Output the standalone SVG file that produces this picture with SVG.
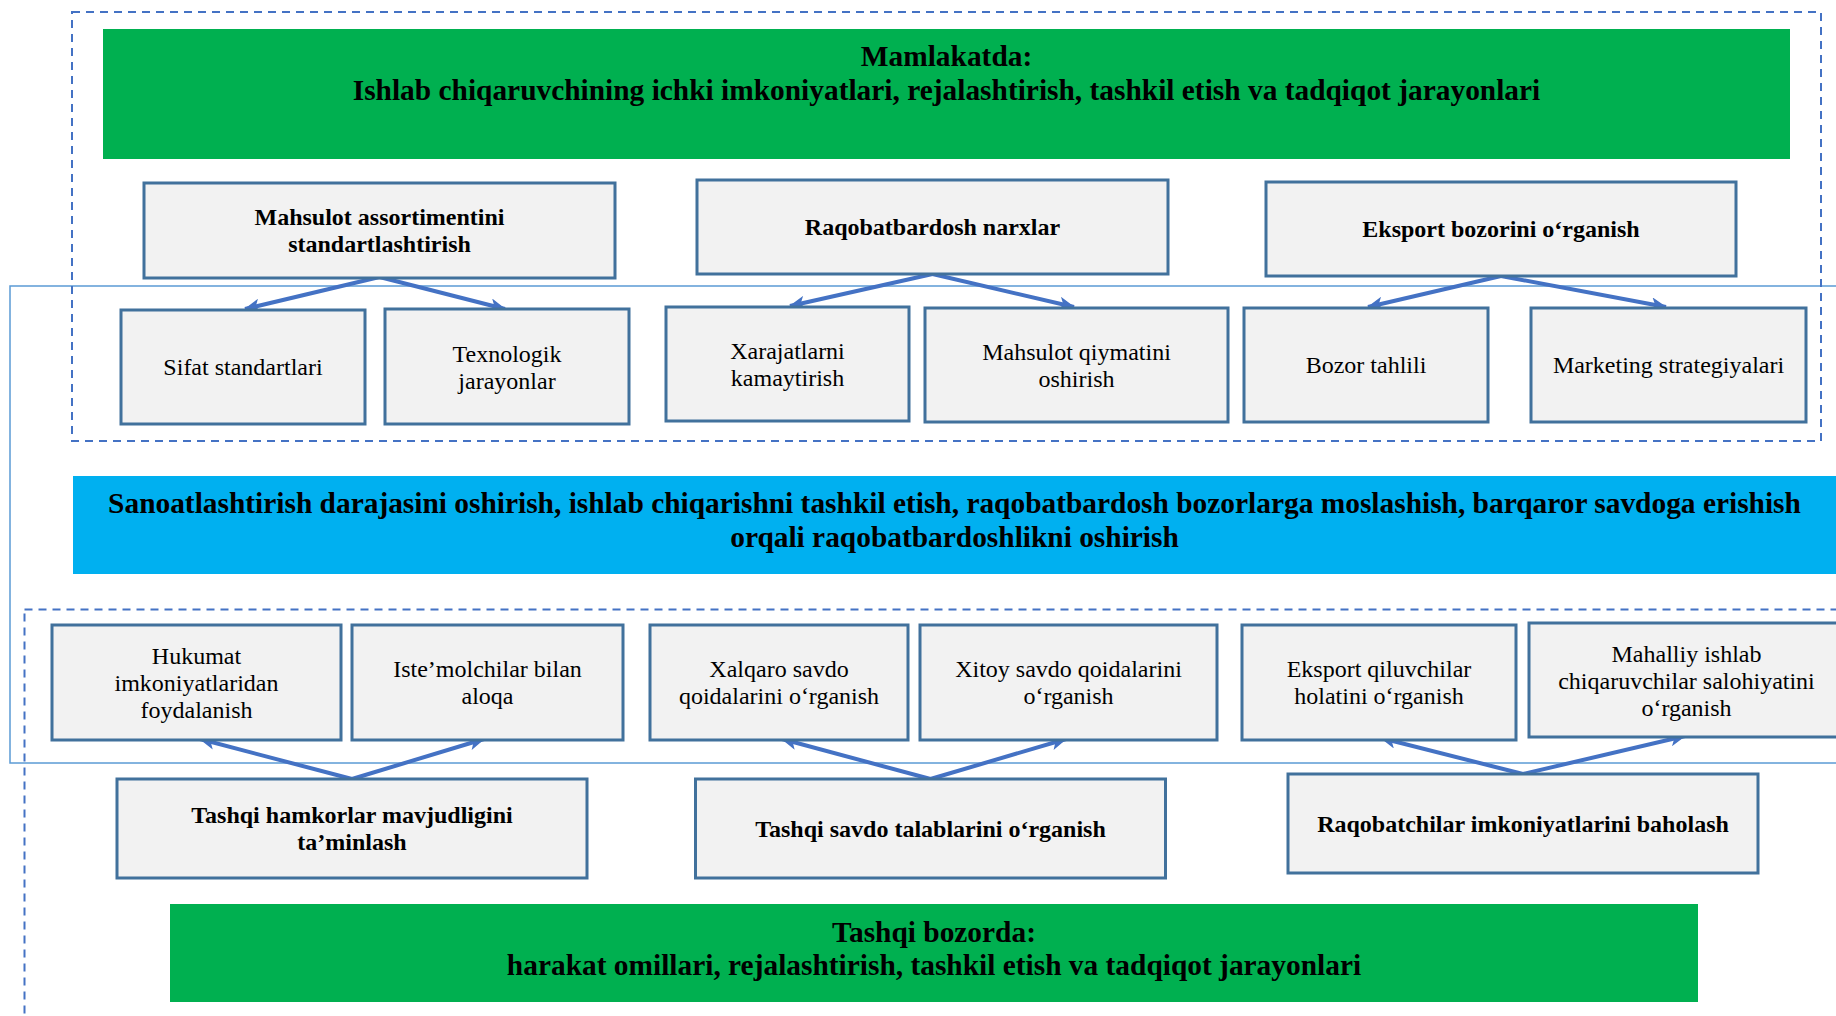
<svg xmlns="http://www.w3.org/2000/svg" width="1836" height="1016" viewBox="0 0 1836 1016">
<defs>
<style>
.bg{fill:#ffffff}
.frame{fill:none;stroke:#5B9BD5;stroke-width:1.5}
.dash{fill:none;stroke:#4472C4;stroke-width:2;stroke-dasharray:8 6}
.green{fill:#00B050}
.blue{fill:#00B0F0}
.node rect{fill:#F2F2F2;stroke:#41719C;stroke-width:3}
text{font-family:"Liberation Serif","Times New Roman",serif;fill:#000;text-anchor:middle}
.h{font-size:29.4px;font-weight:bold}
.b{font-size:24px;font-weight:bold}
.r{font-size:24px}
.conn line{stroke:#4472C4;stroke-width:4;marker-end:url(#ah)}
</style>
<marker id="ah" viewBox="0 0 16 14" markerWidth="16" markerHeight="14" refX="15" refY="7" orient="auto" markerUnits="userSpaceOnUse">
<path d="M0,0 L16,7 L0,14 L4,7 Z" fill="#4472C4"/>
</marker>
</defs>
<rect class="bg" x="0" y="0" width="1836" height="1016"/>

<g id="frames">
<rect class="frame" x="10" y="286" width="1900" height="477"/>
<rect class="dash" x="72" y="12" width="1749" height="429"/>
<rect class="dash" x="24.5" y="609.5" width="1900" height="500"/>
</g>

<g id="header-top">
<rect class="green" x="103" y="29" width="1687" height="130"/>
<text class="h" x="946.5" y="66">Mamlakatda:</text>
<text class="h" x="946.5" y="100">Ishlab chiqaruvchining ichki imkoniyatlari, rejalashtirish, tashkil etish va tadqiqot jarayonlari</text>
</g>

<g id="header-middle">
<rect class="blue" x="73" y="476" width="1800" height="98"/>
<text class="h" x="954.5" y="513">Sanoatlashtirish darajasini oshirish, ishlab chiqarishni tashkil etish, raqobatbardosh bozorlarga moslashish, barqaror savdoga erishish</text>
<text class="h" x="954.5" y="547">orqali raqobatbardoshlikni oshirish</text>
</g>

<g id="header-bottom">
<rect class="green" x="170" y="904" width="1528" height="98"/>
<text class="h" x="934" y="942">Tashqi bozorda:</text>
<text class="h" x="934" y="975">harakat omillari, rejalashtirish, tashkil etish va tadqiqot jarayonlari</text>
</g>

<g id="connectors" class="conn">
<line x1="379.5" y1="277" x2="245" y2="309"/>
<line x1="379.5" y1="277" x2="505" y2="309"/>
<line x1="932.5" y1="274" x2="790" y2="306"/>
<line x1="932.5" y1="274" x2="1074" y2="307"/>
<line x1="1501" y1="276" x2="1368" y2="307"/>
<line x1="1501" y1="276" x2="1666" y2="307"/>
<line x1="352" y1="779" x2="200" y2="739"/>
<line x1="352" y1="779" x2="484" y2="739"/>
<line x1="930.5" y1="779" x2="782" y2="739"/>
<line x1="930.5" y1="779" x2="1066" y2="739"/>
<line x1="1523" y1="774" x2="1381" y2="738"/>
<line x1="1523" y1="774" x2="1685" y2="736"/>
</g>

<g id="n-mahsulot-assort" class="node">
<rect x="144" y="183" width="471" height="95"/>
<text class="b" x="379.5" y="225">Mahsulot assortimentini</text>
<text class="b" x="379.5" y="252">standartlashtirish</text>
</g>
<g id="n-raqobat-narx" class="node">
<rect x="697" y="180" width="471" height="94"/>
<text class="b" x="932.5" y="235">Raqobatbardosh narxlar</text>
</g>
<g id="n-eksport-bozor" class="node">
<rect x="1266" y="182" width="470" height="94"/>
<text class="b" x="1501" y="237">Eksport bozorini o‘rganish</text>
</g>

<g id="n-sifat" class="node">
<rect x="121" y="310" width="244" height="114"/>
<text class="r" x="243" y="375">Sifat standartlari</text>
</g>
<g id="n-texnologik" class="node">
<rect x="385" y="309" width="244" height="115"/>
<text class="r" x="507" y="361.5">Texnologik</text>
<text class="r" x="507" y="388.5">jarayonlar</text>
</g>
<g id="n-xarajat" class="node">
<rect x="666" y="307" width="243" height="114"/>
<text class="r" x="787.5" y="358.5">Xarajatlarni</text>
<text class="r" x="787.5" y="385.5">kamaytirish</text>
</g>
<g id="n-qiymat" class="node">
<rect x="925" y="308" width="303" height="114"/>
<text class="r" x="1076.5" y="359.5">Mahsulot qiymatini</text>
<text class="r" x="1076.5" y="386.5">oshirish</text>
</g>
<g id="n-bozor" class="node">
<rect x="1244" y="308" width="244" height="114"/>
<text class="r" x="1366" y="373">Bozor tahlili</text>
</g>
<g id="n-marketing" class="node">
<rect x="1531" y="308" width="275" height="114"/>
<text class="r" x="1668.5" y="373">Marketing strategiyalari</text>
</g>

<g id="n-hukumat" class="node">
<rect x="52" y="625" width="289" height="115"/>
<text class="r" x="196.5" y="663.5">Hukumat</text>
<text class="r" x="196.5" y="690.5">imkoniyatlaridan</text>
<text class="r" x="196.5" y="717.5">foydalanish</text>
</g>
<g id="n-istemol" class="node">
<rect x="352" y="625" width="271" height="115"/>
<text class="r" x="487.5" y="677">Iste’molchilar bilan</text>
<text class="r" x="487.5" y="704">aloqa</text>
</g>
<g id="n-xalqaro" class="node">
<rect x="650" y="625" width="258" height="115"/>
<text class="r" x="779" y="677">Xalqaro savdo</text>
<text class="r" x="779" y="704">qoidalarini o‘rganish</text>
</g>
<g id="n-xitoy" class="node">
<rect x="920" y="625" width="297" height="115"/>
<text class="r" x="1068.5" y="677">Xitoy savdo qoidalarini</text>
<text class="r" x="1068.5" y="704">o‘rganish</text>
</g>
<g id="n-eksportchi" class="node">
<rect x="1242" y="625" width="274" height="115"/>
<text class="r" x="1379" y="677">Eksport qiluvchilar</text>
<text class="r" x="1379" y="704">holatini o‘rganish</text>
</g>
<g id="n-mahalliy" class="node">
<rect x="1529" y="623" width="315" height="114"/>
<text class="r" x="1686.5" y="662">Mahalliy ishlab</text>
<text class="r" x="1686.5" y="689">chiqaruvchilar salohiyatini</text>
<text class="r" x="1686.5" y="716">o‘rganish</text>
</g>

<g id="n-hamkor" class="node">
<rect x="117" y="779" width="470" height="99"/>
<text class="b" x="352" y="823">Tashqi hamkorlar mavjudligini</text>
<text class="b" x="352" y="850">ta’minlash</text>
</g>
<g id="n-talab" class="node">
<rect x="695.5" y="779" width="470" height="99"/>
<text class="b" x="930.5" y="836.5">Tashqi savdo talablarini o‘rganish</text>
</g>
<g id="n-raqobatchi" class="node">
<rect x="1288" y="774" width="470" height="99"/>
<text class="b" x="1523" y="831.5">Raqobatchilar imkoniyatlarini baholash</text>
</g>
</svg>
